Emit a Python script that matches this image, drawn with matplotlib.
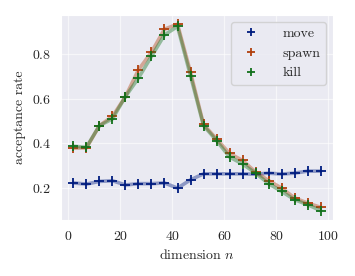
import matplotlib
matplotlib.use("Agg")
import matplotlib.pyplot as plt
import seaborn as sns

# dimension n
dims = [2, 7, 12, 17, 22, 27, 32, 37, 42, 47, 52, 57, 62, 67, 72, 77, 82, 87, 92, 97]

move = [0.223, 0.218, 0.230, 0.233, 0.214, 0.220, 0.220, 0.223, 0.200, 0.237,
        0.264, 0.264, 0.264, 0.264, 0.262, 0.267, 0.263, 0.267, 0.276, 0.276]
spawn = [0.379, 0.380, 0.480, 0.521, 0.610, 0.730, 0.809, 0.912, 0.934, 0.719,
         0.485, 0.420, 0.355, 0.324, 0.272, 0.234, 0.200, 0.156, 0.133, 0.114]
kill = [0.387, 0.383, 0.480, 0.510, 0.610, 0.693, 0.790, 0.886, 0.924, 0.703,
        0.480, 0.413, 0.339, 0.308, 0.267, 0.220, 0.185, 0.148, 0.126, 0.099]

sns.set_style("darkgrid")
plt.rcParams["font.family"] = "serif"
plt.rcParams["font.serif"] = ["cmr10", "DejaVu Serif"]
plt.rcParams["mathtext.fontset"] = "cm"
plt.rcParams["axes.formatter.use_mathtext"] = True

colores = sns.color_palette("dark", 3)
series = {"move": move, "spawn": spawn, "kill": kill}

fig, ax = plt.subplots(figsize=(3.55, 2.76), dpi=100)
ax.grid(True, color="white", linewidth=0.9, alpha=0.6)
for (nombre, vals), c in zip(series.items(), colores):
    ax.plot(dims, vals, color=c, alpha=0.4, linewidth=2.6)
    ax.plot(dims, vals, color=c, linestyle="none", marker="+",
            markersize=7, markeredgewidth=1.3, label=nombre)

ax.set_xticks([0, 20, 40, 60, 80, 100])
ax.set_yticks([0.2, 0.4, 0.6, 0.8])
ax.tick_params(labelsize=10)
ax.set_xlabel("dimension $n$", fontsize=10)
ax.set_ylabel("acceptance rate", fontsize=10)
ax.legend(loc="upper right", fontsize=10, markerscale=0.8, handletextpad=1.3)

fig.subplots_adjust(left=0.172, right=0.938, top=0.946, bottom=0.203)
fig.savefig("out.png", dpi=100)
